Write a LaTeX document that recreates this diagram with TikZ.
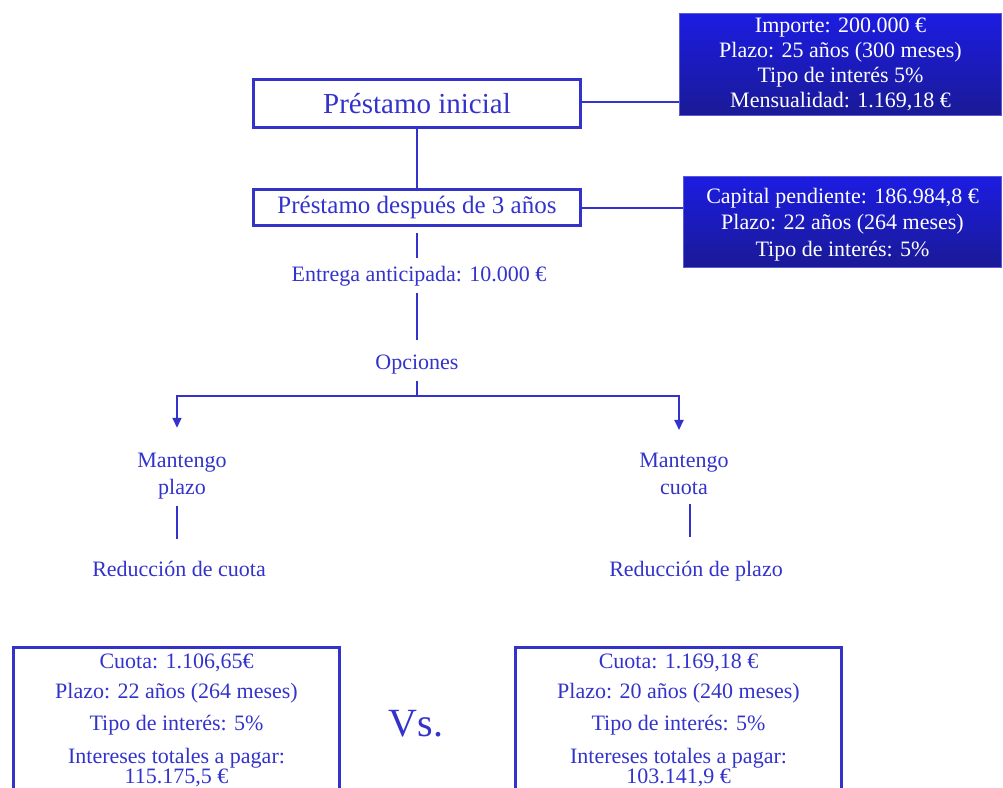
\documentclass[tikz,border=0pt]{standalone}
\usepackage{fontspec}
\setmainfont{Liberation Serif}
\usepackage{tikz}
\usetikzlibrary{arrows.meta, positioning, calc}
\definecolor{loanblue}{RGB}{51,51,204}
\definecolor{boxtop}{RGB}{28,28,226}
\definecolor{boxbot}{RGB}{26,26,150}
\definecolor{boxedge}{RGB}{90,90,215}

\begin{document}
\begin{tikzpicture}[
    x=1pt, y=-1pt,
    % ── Box styles ──
    mainbox/.style={rectangle, draw=loanblue, line width=3pt, minimum width=327pt,
                    text=loanblue, inner sep=0pt},
    databox/.style={rectangle, draw=boxedge, line width=1.5pt,
                    top color=boxtop, bottom color=boxbot, text=white,
                    align=center, inner sep=3pt, font=\fontsize{22}{25}\selectfont},
    resbox/.style={rectangle, draw=loanblue, line width=3pt, text=loanblue,
                   inner xsep=3pt, inner ysep=6pt},
    txt/.style={text=loanblue, align=center, inner sep=0pt,
                font=\fontsize{22}{27}\selectfont},
    conn/.style={draw=loanblue, line width=2pt},
    arr/.style={-{Triangle[length=10pt, width=9pt]}, draw=loanblue, line width=2pt}
]
\useasboundingbox (0,0) rectangle (1003,787);

% ═══ Loan boxes ═══
\node[mainbox, minimum height=48pt, font=\fontsize{29}{33}\selectfont]
  (inicial) at (417,103.5) {Préstamo inicial};
\node[mainbox, minimum height=36pt, font=\fontsize{25}{30}\selectfont,
  below=59pt of inicial] (despues) {Préstamo después de 3 años};

% ═══ Data boxes ═══
\node[databox, minimum width=322pt, minimum height=102pt] (datos1) at (840.5,64.5)
  {Importe: 200.000 €\\Plazo: 25 años (300 meses)\\Tipo de interés 5\%\\Mensualidad: 1.169,18 €};
\node[databox, minimum width=318pt, minimum height=91pt,
  font=\fontsize{22}{26.5}\selectfont] (datos2) at (842.5,222)
  {\rule{0pt}{20pt}Capital pendiente: 186.984,8 €\\Plazo: 22 años (264 meses)\\Tipo de interés: 5\%};

\draw[conn] ([yshift=2pt]inicial.east) -- ([yshift=2pt]inicial.east -| datos1.west);
\draw[conn] (despues.east) -- (despues.east -| datos2.west);

% ═══ Flow texts ═══
\node[txt] (entrega)  at (419,276) {Entrega anticipada: 10.000 €};
\node[txt] (opciones) at (417,365) {Opciones};
\node[txt] (mplazo)   at (182,476) {Mantengo\\plazo};
\node[txt] (mcuota)   at (684,474) {Mantengo\\cuota};
\node[txt] (rcuota)   at (179,569) {Reducción de cuota};
\node[txt] (rplazo)   at (696,571.5) {Reducción de plazo};
\coordinate (rama) at (417,396);

\draw[conn] (inicial) -- (despues);
\draw[conn, shorten <=6pt, shorten >=8pt] (despues.south) -- (despues.south |- entrega.north);
\draw[conn, shorten <=7pt, shorten >=15pt] (entrega.south -| opciones) -- (opciones.north);
\draw[conn, shorten <=6pt] (opciones) -- (rama);
\draw[arr, shorten >=25pt] (rama) -| ([xshift=-5pt]mplazo.north);
\draw[arr, shorten >=23pt] (rama) -| ([xshift=-5pt]mcuota.north);
\draw[conn, shorten <=7pt, shorten >=22pt] ([xshift=-5pt]mplazo.south) -- ([xshift=-2pt]rcuota.north);
\draw[conn, shorten <=9pt, shorten >=24.5pt] ([xshift=6pt]mcuota.south) -- ([xshift=-6pt]rplazo.north);

% ═══ Results ═══
\node[resbox, anchor=north] (rescuota) at (176.5,646) {\parbox[t][160pt][t]{320pt}{\centering
  \fontsize{22}{19}\selectfont Cuota: 1.106,65€\\[11pt]Plazo: 22 años (264 meses)\\[11pt]%
  Tipo de interés: 5\%\\[12pt]Intereses totales a pagar:\\115.175,5 €}};
\node[resbox, anchor=north] (resplazo) at (678.5,646) {\parbox[t][160pt][t]{320pt}{\centering
  \fontsize{22}{19}\selectfont Cuota: 1.169,18 €\\[11pt]Plazo: 20 años (240 meses)\\[11pt]%
  Tipo de interés: 5\%\\[12pt]Intereses totales a pagar:\\103.141,9 €}};
\node[txt, font=\fontsize{40}{44}\selectfont] (vs) at (416,724) {Vs.};

\end{tikzpicture}
\end{document}
